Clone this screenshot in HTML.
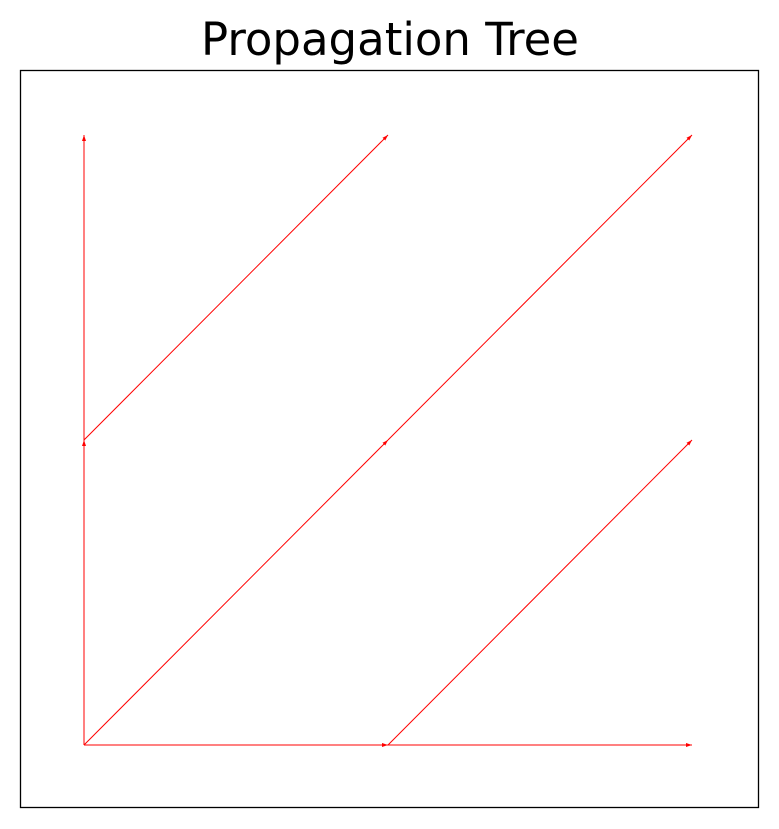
<!DOCTYPE html>
<html><head><meta charset="utf-8"><style>
body{margin:0;background:#fff;}
svg{display:block;font-family:"DejaVu Sans","Liberation Sans",sans-serif;}
</style></head><body>
<svg width="779" height="829">
<defs><marker id="ah" markerWidth="7" markerHeight="6" refX="6" refY="3" orient="auto" markerUnits="userSpaceOnUse"><path d="M0,1 L6,3 L0,5 Z" fill="red"/></marker></defs>
<text x="390" y="55" text-anchor="middle" font-size="45">Propagation Tree</text>
<rect x="20.5" y="70.5" width="738" height="737" fill="none" stroke="#000" stroke-width="1.3"/>
<g id="edges"></g>
</svg>
<script>
const fromX=[0,0,0,0,1,0,1,1];
const fromY=[0,1,1,0,1,0,0,0];
const toX=[0,0,1,1,2,1,2,2];
const toY=[1,2,2,1,2,0,0,1];
function sx(v){return 84+v*304;}
function sy(v){return 745-v*305;}
const g=document.getElementById('edges');
for(let i=0;i<fromX.length;i++){
  const l=document.createElementNS('http://www.w3.org/2000/svg','line');
  l.setAttribute('x1',sx(fromX[i]));l.setAttribute('y1',sy(fromY[i]));
  l.setAttribute('x2',sx(toX[i]));l.setAttribute('y2',sy(toY[i]));
  l.setAttribute('stroke','red');l.setAttribute('stroke-width','1');
  l.setAttribute('marker-end','url(#ah)');
  
  
  g.appendChild(l);
}
</script>
</body></html>
